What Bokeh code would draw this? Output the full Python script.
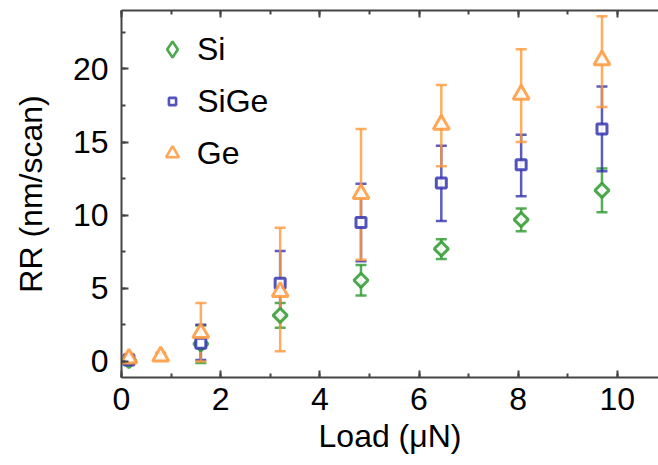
import math
from bokeh.plotting import figure
from bokeh.models import (ColumnDataSource, Whisker, TeeHead, LinearAxis, SingleIntervalTicker,
                          Legend, LegendItem, CustomJSTickFormatter)
from bokeh.embed import file_html
from bokeh.resources import INLINE

# ---- data ----
si_x = [0.15, 1.6, 3.2, 4.83, 6.45, 8.06, 9.69]
si_y = [0.05, 1.2, 3.15, 5.55, 7.7, 9.7, 11.7]
si_lo = [-0.1, -0.1, 2.3, 4.5, 7.0, 8.9, 10.2]
si_hi = [0.3, 2.45, 4.0, 6.6, 8.35, 10.45, 13.2]

sige_x = [0.15, 1.6, 3.2, 4.83, 6.45, 8.06, 9.69]
sige_y = [0.1, 1.25, 5.35, 9.5, 12.2, 13.45, 15.9]
sige_lo = [-0.05, 0.1, 3.1, 6.85, 9.6, 11.3, 13.0]
sige_hi = [0.3, 2.5, 7.55, 12.15, 14.75, 15.5, 18.8]

ge_x = [0.15, 0.79, 1.6, 3.2, 4.83, 6.45, 8.06, 9.69]
ge_y = [0.2, 0.35, 1.95, 4.75, 11.45, 16.2, 18.25, 20.6]
ge_lo = [-0.1, 0.1, 0.0, 0.7, 6.95, 13.35, 15.0, 17.4]
ge_hi = [0.5, 0.6, 4.0, 9.15, 15.9, 18.9, 21.35, 23.6]

labels = ["Si", "SiGe", "Ge"]
colors = ["#2e9a2e", "#3535b0", "#ff9838"]
markers = ["square", "square", "triangle"]
legend_markers = ["diamond", "square", "triangle"]
angles = [math.pi / 4, 0, 0]
sizes = [10, 10, 16]

FONT = "Liberation Sans"
FS = "32px"

FRAME_H = 465 - 10 - 88

p = figure(width=658, height=465, x_range=(0, 10.83), y_range=(-1.1, 24.0),
           output_backend="svg", toolbar_location=None,
           min_border_left=121, min_border_right=0, min_border_top=10, min_border_bottom=88)
p.outline_line_color = None
p.xgrid.visible = False
p.ygrid.visible = False
p.background_fill_color = "white"
p.border_fill_color = "white"


def style_axis(ax, show_labels=True):
    ax.axis_line_color = "#444444"
    ax.axis_line_width = 2
    ax.major_tick_line_color = "#444444"
    ax.major_tick_line_width = 2
    ax.minor_tick_line_color = "#444444"
    ax.minor_tick_line_width = 2
    ax.major_tick_in = 7
    ax.major_tick_out = 0
    ax.minor_tick_in = 4
    ax.minor_tick_out = 0
    ax.major_label_text_font = FONT
    ax.major_label_text_color = "black"
    ax.major_label_text_font_size = FS
    if not show_labels:
        ax.formatter = CustomJSTickFormatter(code="return ''")
        ax.major_label_standoff = 0


p.xaxis.ticker = SingleIntervalTicker(interval=2, num_minor_ticks=2)
p.yaxis.ticker = SingleIntervalTicker(interval=5, num_minor_ticks=2)
for ax in p.xaxis:
    style_axis(ax)
    ax.major_label_standoff = 10
    ax.axis_label = "Load (μN)"
    ax.axis_label_text_font = FONT
    ax.axis_label_text_font_size = FS
    ax.axis_label_text_color = "black"
    ax.axis_label_text_font_style = "normal"
    ax.axis_label_standoff = 5
for ax in p.yaxis:
    style_axis(ax)
    ax.major_label_standoff = 13
    ax.axis_label = "RR (nm/scan)"
    ax.axis_label_text_font = FONT
    ax.axis_label_text_font_size = FS
    ax.axis_label_text_color = "black"
    ax.axis_label_text_font_style = "normal"
    ax.axis_label_standoff = 21

top = LinearAxis(ticker=SingleIntervalTicker(interval=2, num_minor_ticks=2))
style_axis(top, show_labels=False)
p.add_layout(top, "above")

series = [
    (si_x, si_y, si_lo, si_hi),
    (sige_x, sige_y, sige_lo, sige_hi),
    (ge_x, ge_y, ge_lo, ge_hi),
]

# legend layout (screen px): marker centre x, row centre y, text start x, marker size
LEG_CX = 172 - 121
LEG_TX = 197 - 121
LEG_ROWS = [49, 101, 153]
LEG_SIZES = [16, 7, 13]
ROW_H = 40

for i, ((xs, ys, lo, hi), lab, col, mk, lmk, ang, sz) in enumerate(
        zip(series, labels, colors, markers, legend_markers, angles, sizes)):
    src = ColumnDataSource(dict(x=xs, y=ys, lo=lo, hi=hi))
    w = Whisker(source=src, base="x", lower="lo", upper="hi", dimension="height",
                line_color=col, line_width=2.5, line_alpha=0.8,
                upper_head=TeeHead(size=11, line_color=col, line_width=2.5, line_alpha=0.8),
                lower_head=TeeHead(size=11, line_color=col, line_width=2.5, line_alpha=0.8))
    p.add_layout(w)
    p.scatter("x", "y", source=src, marker=mk, angle=ang, size=sz, line_color=col,
              line_width=3, fill_color="white", line_alpha=0.85, fill_alpha=0.9)
    # legend-only renderer (a single off-plot NaN point) so the legend shows its own marker shape
    lr = p.scatter(x=[float("nan")], y=[float("nan")], marker=lmk, line_color=col,
                   line_width=2.6, fill_color="white", line_alpha=0.85)
    g = LEG_SIZES[i] / 0.4
    row_top = LEG_ROWS[i] - 10 - ROW_H / 2
    vy = FRAME_H - (row_top + ROW_H)
    vx = LEG_CX - g / 2
    leg = Legend(items=[LegendItem(label=lab, renderers=[lr])], location=(vx, vy))
    leg.label_text_font = FONT
    leg.label_text_font_size = FS
    leg.label_text_color = "black"
    leg.border_line_color = None
    leg.background_fill_alpha = 0
    leg.padding = 0
    leg.margin = 0
    leg.glyph_width = int(round(g))
    leg.glyph_height = int(round(min(g, ROW_H)))
    leg.label_height = ROW_H
    leg.label_standoff = int(round(LEG_TX - LEG_CX - g / 2))
    p.add_layout(leg, "center")

open("out.html", "w").write(file_html(p, INLINE))
